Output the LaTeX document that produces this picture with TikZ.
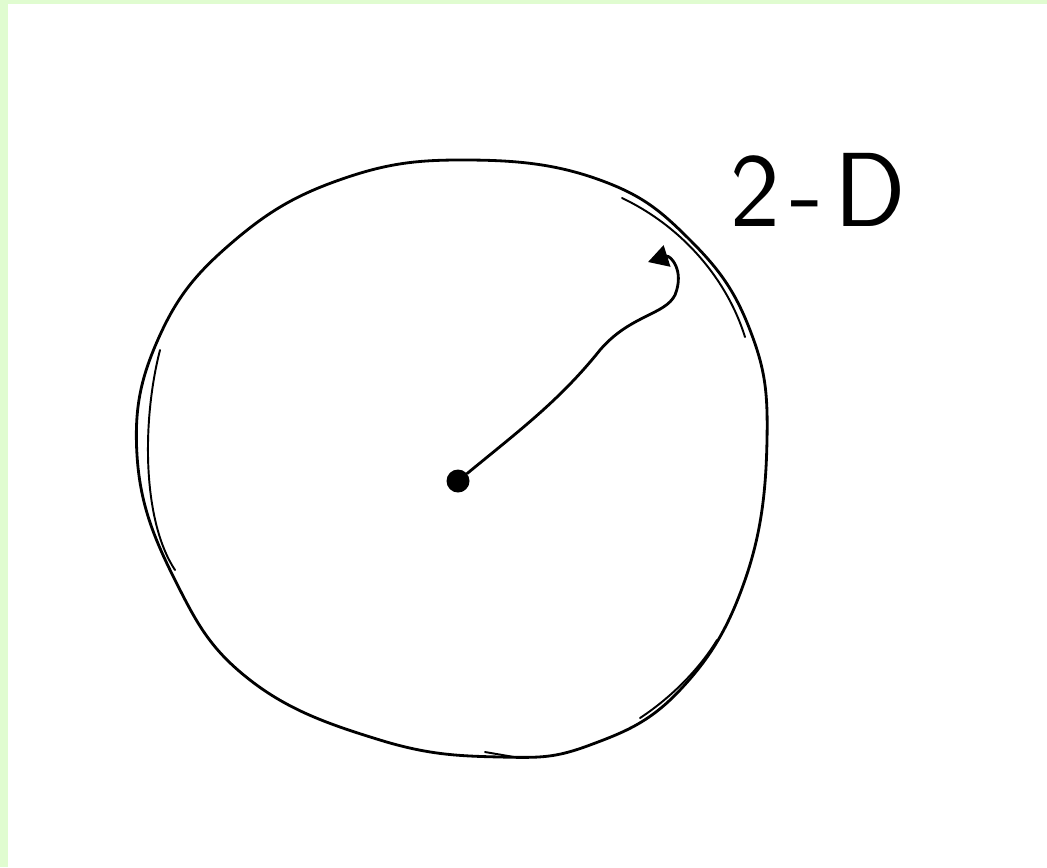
\documentclass[tikz,border=0pt]{standalone}
\usepackage{tikz}
\usetikzlibrary{arrows.meta, calc}
\definecolor{paperedge}{RGB}{224,252,208}
\tikzset{
  pen/.style={draw=black, line width=1.6pt, line cap=round, line join=round},
  retrace/.style={pen, line width=1.1pt},
  centre dot/.style={circle, fill=black, inner sep=0pt, minimum size=0.46cm},
  label/.style={font=\sffamily\fontsize{60}{60}\selectfont, inner sep=0pt},
}

\begin{document}
\begin{tikzpicture}[x=0.02cm, y=-0.02cm]
  % page with the green edge
  \useasboundingbox (0,0) rectangle (1047,867);
  \fill[paperedge] (0,0) rectangle (1047,867);
  \fill[white] (8,4) rectangle (1047,867);

  % the disc
  \draw[pen] plot[smooth cycle, tension=0.7] coordinates {
    (470,160) (600,180) (690,240) (750,330) (767,440) (745,580)
    (680,690) (590,745) (500,757) (380,740) (250,680) (175,580)
    (137,455) (160,335) (235,240) (345,178)};
  \draw[retrace] (160,350) .. controls (142,420) and (142,520) .. (175,570);
  \draw[retrace] (622,198) .. controls (685,228) and (728,282) .. (745,337);
  \draw[retrace] (640,718) .. controls (672,697) and (700,668) .. (717,640);
  \draw[retrace] (485,752) -- (520,758);

  % centre and radius
  \node[centre dot] (c) at (458,481) {};
  \coordinate (tip) at (648,262);
  \draw[pen, -{Triangle[length=0.4cm, width=0.44cm]}]
    (c) .. controls (520,430) and (560,400) .. (600,350)
        .. controls (630,315) and (665,315) .. (675,295)
        .. controls (685,270) and (670,255) .. (tip);

  \node[label] (dim) at (818,190) {2\kern0.1em-\kern0.1em D};
\end{tikzpicture}
\end{document}
